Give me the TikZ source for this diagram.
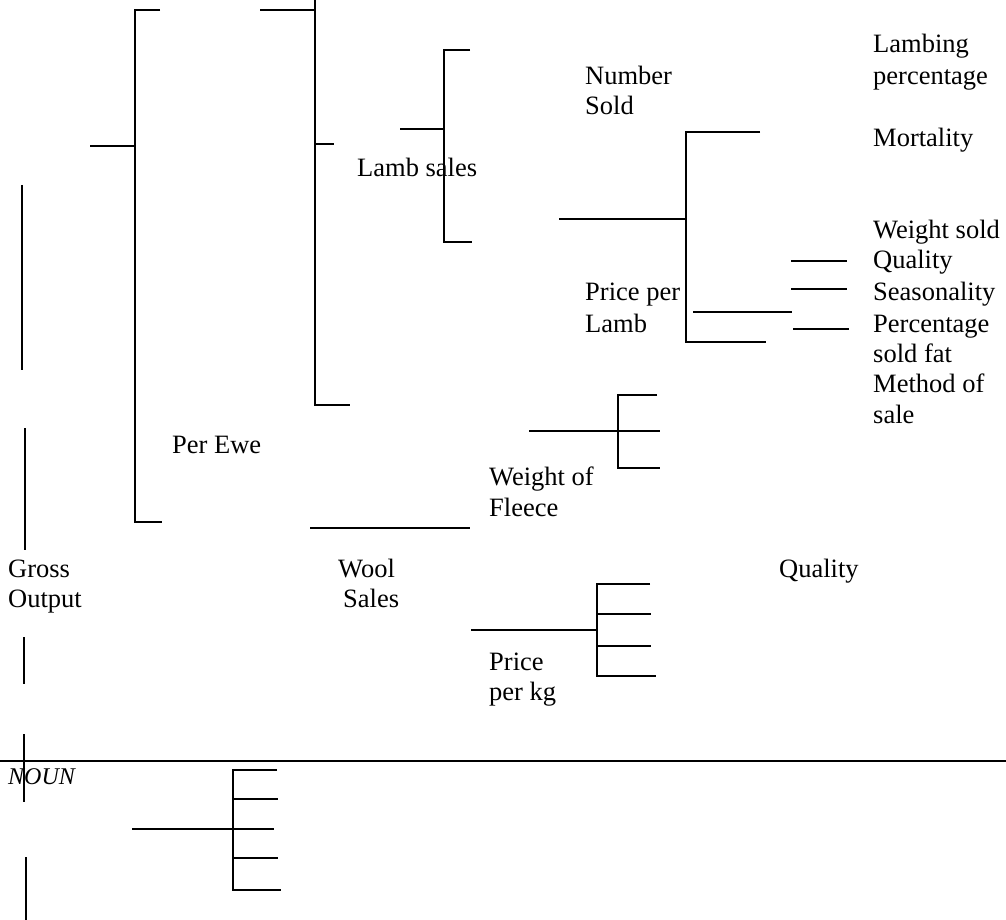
\documentclass[tikz,border=0pt]{standalone}
\usepackage{fontspec}
\setmainfont{Liberation Serif}
\begin{document}
\begin{tikzpicture}[x=1pt,y=-1pt,
  ln/.style={line width=1.7pt},
  lbl/.style={anchor=base west,inner sep=0pt,font=\fontsize{26.5}{30}\selectfont}]
\useasboundingbox (0,0) rectangle (1006,920);
% left dashed-looking vertical
\draw[ln] (22,185) -- (22,370);
\draw[ln] (25,428) -- (25,550);
\draw[ln] (24,637) -- (24,684);
\draw[ln] (24,734) -- (24,802);
\draw[ln] (26,857) -- (26,920);
% horizontal rule
\draw[ln] (0,761) -- (1006,761);
% Per Ewe bracket
\draw[ln] (90,146) -- (135,146);
\draw[ln] (160,10) -- (135,10) -- (135,522) -- (162,522);
% second bracket
\draw[ln] (260,10) -- (315,10);
\draw[ln] (315,0) -- (315,405) -- (350,405);
\draw[ln] (315,144) -- (334,144);
% Lamb sales bracket
\draw[ln] (400,129) -- (444,129);
\draw[ln] (470,50) -- (444,50) -- (444,242) -- (472,242);
% Number sold / price per lamb bracket
\draw[ln] (559,219) -- (686,219);
\draw[ln] (760,132) -- (686,132) -- (686,342) -- (766,342);
\draw[ln] (693,312) -- (792,312);
\draw[ln] (791,261) -- (847,261);
\draw[ln] (791,289) -- (847,289);
\draw[ln] (793,329) -- (849,329);
% Weight of fleece bracket
\draw[ln] (529,431) -- (660,431);
\draw[ln] (657,395) -- (618,395) -- (618,468) -- (660,468);
% wool line
\draw[ln] (310,528) -- (470,528);
% price per kg bracket
\draw[ln] (471,630) -- (597,630);
\draw[ln] (650,584) -- (597,584) -- (597,676) -- (656,676);
\draw[ln] (597,614) -- (651,614);
\draw[ln] (597,646) -- (651,646);
% bottom bracket
\draw[ln] (132,829) -- (233,829);
\draw[ln] (277,770) -- (233,770) -- (233,890) -- (281,890);
\draw[ln] (233,799) -- (278,799);
\draw[ln] (233,829) -- (274,829);
\draw[ln] (233,858) -- (278,858);
% labels
\node[lbl] (t1) at (873,53) {Lambing};
\node[lbl] (t2) at (873,85) {percentage};
\node[lbl] (t3) at (585,85) {Number};
\node[lbl] (t4) at (585,115) {Sold};
\node[lbl] (t5) at (873,147) {Mortality};
\node[lbl] (t6) at (357,177) {Lamb sales};
\node[lbl] (t7) at (873,238) {Weight sold};
\node[lbl] (t8) at (873,268) {Quality};
\node[lbl] (t9) at (585,300) {Price per};
\node[lbl] (t10) at (873,300) {Seasonality};
\node[lbl] (t11) at (585,332) {Lamb};
\node[lbl] (t12) at (873,332) {Percentage};
\node[lbl] (t13) at (873,362) {sold fat};
\node[lbl] (t14) at (873,392) {Method of};
\node[lbl] (t15) at (873,423) {sale};
\node[lbl] (t16) at (172,453) {Per Ewe};
\node[lbl] (t17) at (489,485) {Weight of};
\node[lbl] (t18) at (489,516) {Fleece};
\node[lbl] (t19) at (8,577) {Gross};
\node[lbl] (t20) at (8,607) {Output};
\node[lbl] (t21) at (338,577) {Wool};
\node[lbl] (t22) at (343,607) {Sales};
\node[lbl] (t23) at (779,577) {Quality};
\node[lbl] (t24) at (489,670) {Price};
\node[lbl] (t25) at (489,700) {per kg};
\node[lbl,font=\fontsize{24}{28}\selectfont\itshape] (t26) at (8,784) {NOUN};
\end{tikzpicture}
\end{document}
